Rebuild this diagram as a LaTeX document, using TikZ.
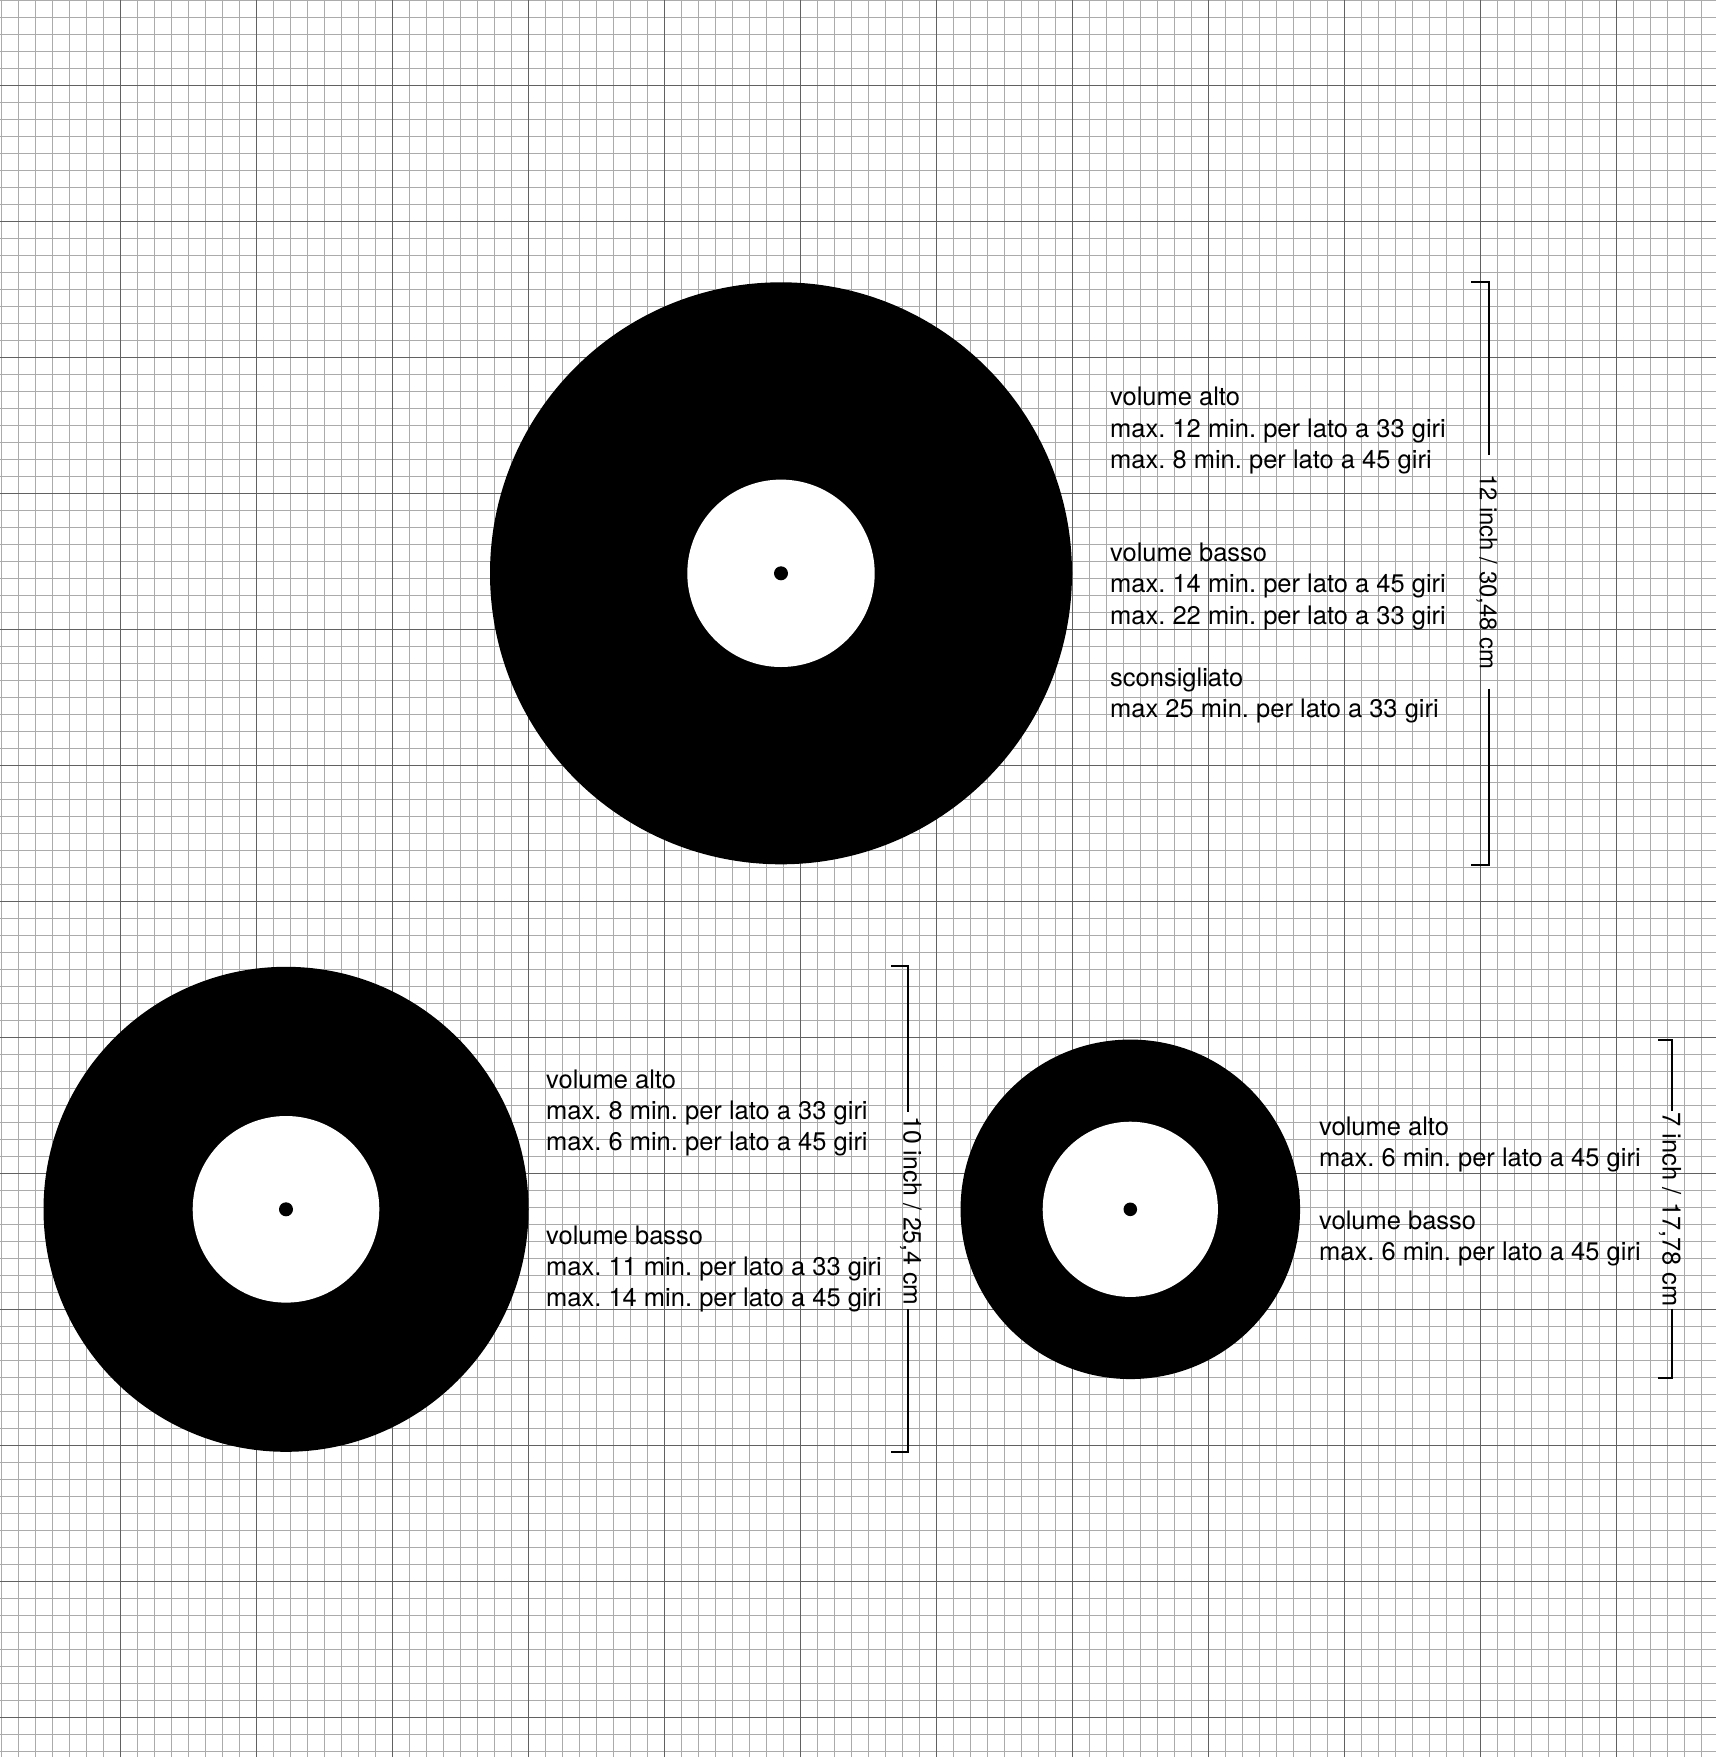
\documentclass[tikz,border=0pt]{standalone}
\usepackage{fontspec}
\setmainfont{TeX Gyre Heros}
\begin{document}
\frenchspacing
\begin{tikzpicture}[x=1pt,y=-1pt,
  minor/.style={draw=black!33, line width=0.9pt},
  major/.style={draw=black!62, line width=1.1pt},
  txt/.style={anchor=base west, inner sep=0pt, font=\fontsize{25.5}{31}\selectfont},
  dimlabel/.style={rotate=-90, anchor=base, inner ysep=0pt},
  brk/.style={draw=black, line width=2pt, line join=miter}]
\fill[white] (0,0) rectangle (1716,1757);
\useasboundingbox (0,0) rectangle (1716,1757);
% grid
\foreach \k in {0,...,100} \draw[minor] ({1.3+17*\k},0) -- ({1.3+17*\k},1757);
\foreach \k in {0,...,103} \draw[minor] (0,{0.3+17*\k}) -- (1716,{0.3+17*\k});
\foreach \k in {7,15,...,99} \draw[major] ({1.3+17*\k},0) -- ({1.3+17*\k},1757);
\foreach \k in {5,13,...,101} \draw[major] (0,{0.3+17*\k}) -- (1716,{0.3+17*\k});
% discs
\coordinate (c12) at (781,573.3);
\coordinate (c10) at (286,1209.3);
\coordinate (c7) at (1130.3,1209.3);
\fill[black] (c12) circle[radius=291pt];
\fill[white] (c12) circle[radius=93.7pt];
\fill[black] (c12) circle[radius=7pt];
\fill[black] (c10) circle[radius=242.5pt];
\fill[white] (c10) circle[radius=93.3pt];
\fill[black] (c10) circle[radius=7pt];
\fill[black] (c7) circle[radius=169.75pt];
\fill[white] (c7) circle[radius=87.6pt];
\fill[black] (c7) circle[radius=6.8pt];
% texts 12 inch
\node[txt] (a1) at (1110,405.9) {volume alto};
\node[txt] (a2) at (1110,437.1) {max. 12 min. per lato a 33 giri};
\node[txt] (a3) at (1110,468.2) {max. 8 min. per lato a 45 giri};
\node[txt] (a4) at (1110,561.7) {volume basso};
\node[txt] (a5) at (1110,592.9) {max. 14 min. per lato a 45 giri};
\node[txt] (a6) at (1110,624.0) {max. 22 min. per lato a 33 giri};
\node[txt] (a7) at (1110,686.3) {sconsigliato};
\node[txt] (a8) at (1110,717.5) {max 25 min. per lato a 33 giri};
% texts 10 inch
\node[txt] (b1) at (546,1088.5) {volume alto};
\node[txt] (b2) at (546,1119.7) {max. 8 min. per lato a 33 giri};
\node[txt] (b3) at (546,1150.8) {max. 6 min. per lato a 45 giri};
\node[txt] (b4) at (546,1244.3) {volume basso};
\node[txt] (b5) at (546,1275.5) {max. 11 min. per lato a 33 giri};
\node[txt] (b6) at (546,1306.6) {max. 14 min. per lato a 45 giri};
% texts 7 inch
\node[txt] (d1) at (1319,1135.5) {volume alto};
\node[txt] (d2) at (1319,1166.7) {max. 6 min. per lato a 45 giri};
\node[txt] (d3) at (1319,1229.0) {volume basso};
\node[txt] (d4) at (1319,1260.1) {max. 6 min. per lato a 45 giri};
% dimension brackets
\node[dimlabel, font=\fontsize{23.9}{28}\selectfont, inner xsep=19pt] (l12) at (1479.8,571.7) {12 inch / 30,48 cm};
\coordinate (t12) at (1489,281.5);
\coordinate (u12) at (1489,865);
\coordinate (t12e) at (1471,281.5);
\coordinate (u12e) at (1471,865);
\draw[brk] (t12e) -- (t12) -- (t12 |- l12.west);
\draw[brk] (u12 |- l12.east) -- (u12) -- (u12e);

\node[dimlabel, font=\fontsize{24.8}{30}\selectfont, inner xsep=4pt] (l10) at (903.5,1210.8) {10 inch / 25,4 cm};
\coordinate (t10) at (907.5,966);
\coordinate (u10) at (907.5,1452);
\coordinate (t10e) at (891,966);
\coordinate (u10e) at (891,1452);
\draw[brk] (t10e) -- (t10) -- (t10 |- l10.west);
\draw[brk] (u10 |- l10.east) -- (u10) -- (u10e);

\node[dimlabel, font=\fontsize{25.5}{30}\selectfont, inner xsep=1.5pt] (l7) at (1662.5,1209.8) {7 inch / 17,78 cm};
\coordinate (t7) at (1671.5,1040);
\coordinate (u7) at (1671.5,1377.5);
\coordinate (t7e) at (1658,1040);
\coordinate (u7e) at (1658,1377.5);
\draw[brk] (t7e) -- (t7) -- (t7 |- l7.west);
\draw[brk] (u7 |- l7.east) -- (u7) -- (u7e);
\end{tikzpicture}
\end{document}
